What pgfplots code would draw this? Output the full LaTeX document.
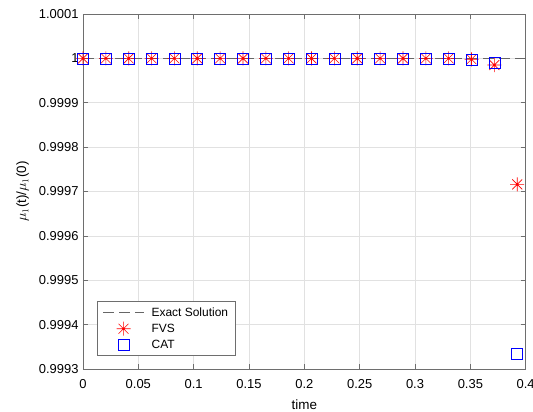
\documentclass[border=0pt]{standalone}
\usepackage{fontspec}
\setmainfont{Liberation Sans}
\newfontfamily\seriffont{Liberation Serif}
\usepackage{pgfplots}
\pgfplotsset{compat=1.18}
\definecolor{gridc}{RGB}{225,225,225}
\definecolor{axc}{RGB}{110,110,110}
\definecolor{matblue}{RGB}{0,0,255}
\pgfdeclareplotmark{star8}{%
  \pgfpathmoveto{\pgfqpoint{-\pgfplotmarksize}{0pt}}\pgfpathlineto{\pgfqpoint{\pgfplotmarksize}{0pt}}%
  \pgfpathmoveto{\pgfqpoint{0pt}{-\pgfplotmarksize}}\pgfpathlineto{\pgfqpoint{0pt}{\pgfplotmarksize}}%
  \pgfpathmoveto{\pgfqpoint{-0.707\pgfplotmarksize}{-0.707\pgfplotmarksize}}\pgfpathlineto{\pgfqpoint{0.707\pgfplotmarksize}{0.707\pgfplotmarksize}}%
  \pgfpathmoveto{\pgfqpoint{-0.707\pgfplotmarksize}{0.707\pgfplotmarksize}}\pgfpathlineto{\pgfqpoint{0.707\pgfplotmarksize}{-0.707\pgfplotmarksize}}%
  \pgfusepathqstroke
  \pgfpathcircle{\pgfpointorigin}{1.2pt}\pgfusepathqfill
}
\pgfplotsset{
  linelegend/.style={legend image code/.code={\draw[##1] (0bp,0bp) -- (41bp,0bp); \path (46bp,0bp);}},
  marklegend/.style={legend image code/.code={\draw[##1] plot coordinates {(20.5bp,0bp)}; \path (0bp,0bp) (46bp,0bp);}},
}
\begin{document}
\begin{tikzpicture}
\begin{axis}[
  at={(0,0)}, anchor=south west,
  width=442.7bp, height=355bp, scale only axis,
  xmin=0, xmax=0.4, ymin=0.9993, ymax=1.0001,
  xtick={0,0.05,0.1,0.15,0.2,0.25,0.3,0.35,0.4},
  xticklabels={0,0.05,0.1,0.15,0.2,0.25,0.3,0.35,0.4},
  ytick={0.9993,0.9994,0.9995,0.9996,0.9997,0.9998,0.9999,1,1.0001},
  yticklabels={0.9993,0.9994,0.9995,0.9996,0.9997,0.9998,0.9999,1,1.0001},
  /pgf/number format/assume math mode=true,
  ticklabel style={font=\fontsize{13}{15}\selectfont},
  xticklabel style={yshift=-7bp},
  yticklabel style={xshift=-1bp},
  grid=major, major grid style={gridc, line width=0.6pt},
  axis line style={axc, line width=0.6pt},
  tick style={axc, line width=0.6pt},
  tick align=inside, major tick length=5bp,
  xlabel={time}, ylabel={$\mu_1$(t)/$\mu_1$(0)},
  label style={font=\fontsize{13.5}{16}\selectfont},
  xlabel style={yshift=-4bp},
  ylabel style={yshift=3bp},
  title={\seriffont\fontsize{14}{16}\selectfont Evolution of $\mu_1$ (t)},
  title style={at={(0.5,1)}, anchor=base, yshift=12.5bp},
  legend style={at={(0.032,0.037)}, anchor=south west, draw=axc, line width=0.6pt,
    font=\fontsize{12}{14}\selectfont, row sep=2bp, inner xsep=5bp, inner ysep=4bp,
    legend cell align=left},
  clip=false,
]
\addplot[gray!80!black, line width=1.2pt, dash pattern=on 11bp off 5bp, linelegend]
  coordinates {(0,1) (0.4,1)};
\addlegendentry{Exact Solution}
\addplot[red, only marks, mark=star8, mark size=7bp, line width=0.6pt, marklegend]
  coordinates {
  (0,1) (0.02065,1) (0.0413,1) (0.06195,1) (0.0826,1) (0.10325,1) (0.1239,1)
  (0.14455,1) (0.1652,1) (0.18585,1) (0.2065,1) (0.22715,1) (0.2478,1)
  (0.26845,1) (0.2891,1) (0.30975,1) (0.3304,1) (0.35105,0.999998)
  (0.3717,0.999985) (0.39235,0.999716)};
\addlegendentry{FVS}
\addplot[matblue, only marks, mark=square, mark size=5.5bp, line width=0.7pt, marklegend]
  coordinates {
  (0,1) (0.02065,1) (0.0413,1) (0.06195,1) (0.0826,1) (0.10325,1) (0.1239,1)
  (0.14455,1) (0.1652,1) (0.18585,1) (0.2065,1) (0.22715,1) (0.2478,1)
  (0.26845,1) (0.2891,1) (0.30975,1) (0.3304,1) (0.35105,0.999997)
  (0.3717,0.99999) (0.39235,0.999334)};
\addlegendentry{CAT}
\end{axis}
\pgfresetboundingbox
\useasboundingbox (-83bp,-43bp) rectangle (450bp,369bp);
\end{tikzpicture}
\end{document}
